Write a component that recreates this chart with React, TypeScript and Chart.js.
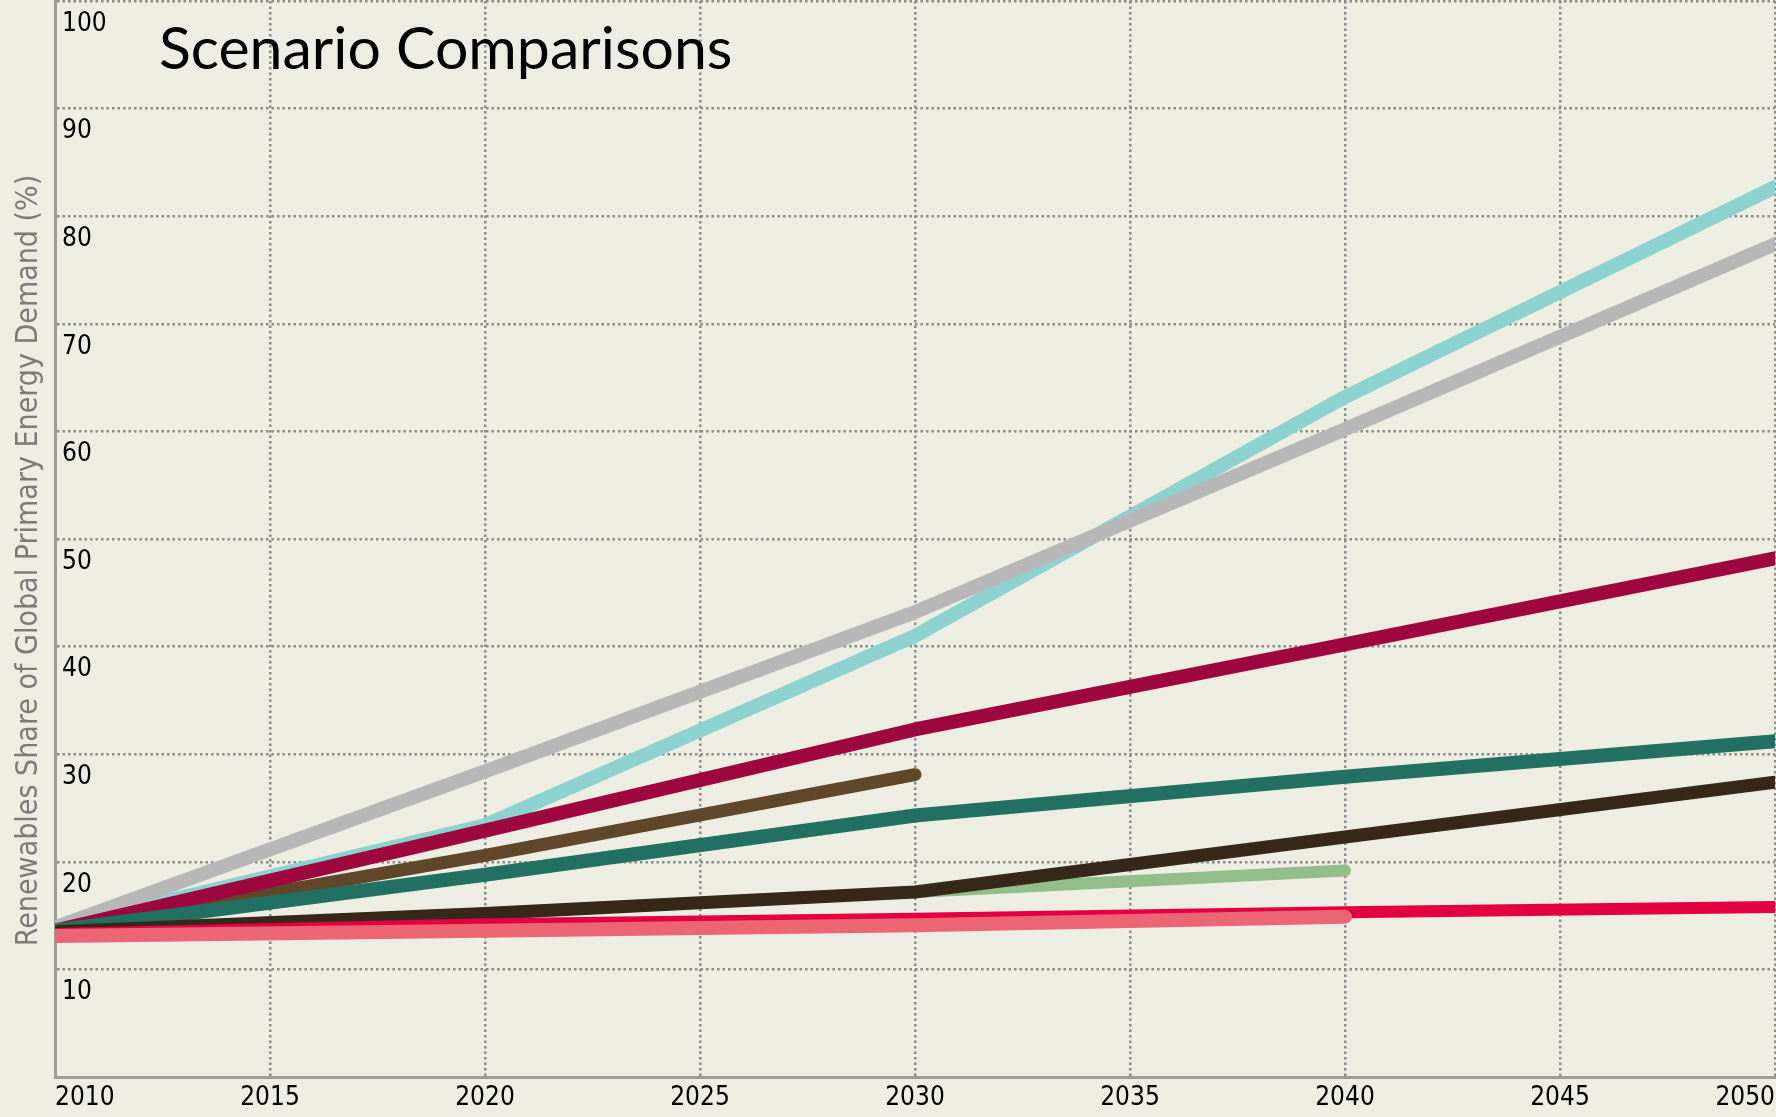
import React, { useEffect, useRef } from 'react';
import { Chart, registerables } from 'chart.js';

Chart.register(...registerables);

// ---- data ----
const years = [2010, 2020, 2030, 2040, 2050];

const cyanSeries = [13.9, 23.4, 41.0, 63.2, 82.7];
const graySeries = [13.9, 28.4, 43.2, 60.2, 77.4];
const maroonSeries = [13.6, 22.9, 32.3, 40.2, 48.2];
const brownSeries = [13.6, 20.6, 28.1, null, null];
const tealSeries = [13.6, 18.8, 24.3, 27.9, 31.2];
const darkSeries = [13.5, 15.2, 17.2, 22.3, 27.4];
const greenSeries = [13.5, 15.2, 17.2, 19.2, null];
const redSeries = [13.3, 14.2, 14.7, 15.3, 15.8];
const pinkSeries = [13.1, 13.6, 14.1, 14.9, null];

const xTickStep = 5;
const yTickStep = 10;
const chartTitle = 'Scenario Comparisons';
const yAxisTitle = 'Renewables Share of Global Primary Energy Demand (%)';

const condensed = "'Liberation Sans Narrow', 'DejaVu Sans Condensed', 'Liberation Sans', sans-serif";

type Series = { label: string; values: (number | null)[]; color: string; width: number; order: number };

const seriesList: Series[] = [
  { label: 'Scenario 1', values: cyanSeries, color: '#8CD2CE', width: 14, order: 8 },
  { label: 'Scenario 2', values: graySeries, color: '#B8B7B7', width: 14, order: 7 },
  { label: 'Scenario 3', values: brownSeries, color: '#60472A', width: 13, order: 6 },
  { label: 'Scenario 4', values: maroonSeries, color: '#9E063E', width: 14, order: 5 },
  { label: 'Scenario 5', values: tealSeries, color: '#217062', width: 14, order: 4 },
  { label: 'Scenario 6', values: greenSeries, color: '#92BE89', width: 12, order: 3 },
  { label: 'Scenario 7', values: darkSeries, color: '#362818', width: 13, order: 2 },
  { label: 'Scenario 8', values: redSeries, color: '#E3003E', width: 12, order: 1 },
  { label: 'Scenario 9', values: pinkSeries, color: '#EC6574', width: 14, order: 0 },
];

export default function App() {
  const ref = useRef<HTMLCanvasElement>(null);

  useEffect(() => {
    document.body.style.margin = '0';
    document.body.style.overflow = 'hidden';
    const canvas = ref.current;
    if (!canvas) return;

    const datasets = seriesList.map((s) => ({
      label: s.label,
      data: years
        .map((yr, i) => ({ x: yr, y: s.values[i] }))
        .filter((p) => p.y !== null) as { x: number; y: number }[],
      borderColor: s.color,
      backgroundColor: s.color,
      borderWidth: s.width,
      order: s.order,
      pointRadius: 0,
      pointHoverRadius: 0,
      borderCapStyle: 'round' as const,
      borderJoinStyle: 'round' as const,
      tension: 0,
      fill: false,
    }));

    const gridColor = '#8c8c8c';

    const chart = new Chart(canvas, {
      type: 'line',
      data: { datasets },
      options: {
        responsive: false,
        animation: false,
        events: [],
        layout: { padding: { top: 1, right: 1, left: 0, bottom: 0 } },
        plugins: {
          legend: { display: false },
          tooltip: { enabled: false },
          title: { display: false },
        },
        scales: {
          x: {
            type: 'linear',
            min: years[0],
            max: years[years.length - 1],
            afterFit: (s: any) => {
              s.height = 40;
              s.paddingLeft = 0;
              s.paddingRight = 0;
            },
            ticks: {
              stepSize: xTickStep,
              autoSkip: false,
              maxRotation: 0,
              align: 'inner',
              padding: 6,
              color: '#000000',
              font: { family: condensed, size: 26, lineHeight: 1.2 },
              callback: (v: any) => String(v),
            },
            grid: { color: gridColor, lineWidth: 2.5, drawTicks: false },
            border: { display: true, color: '#9c9c9c', width: 3, dash: [2.5, 3] },
          },
          y: {
            type: 'linear',
            min: 0,
            max: 100,
            afterFit: (s: any) => {
              s.width = 55;
              s.paddingTop = 0;
              s.paddingBottom = 0;
            },
            ticks: {
              stepSize: yTickStep,
              autoSkip: false,
              mirror: true,
              padding: 7,
              labelOffset: 23,
              color: '#000000',
              font: { family: condensed, size: 26, lineHeight: 1.2 },
              callback: (v: any) => (v === 0 ? '' : String(v)),
            },
            grid: { color: gridColor, lineWidth: 2.5, drawTicks: false },
            border: { display: true, color: '#9c9c9c', width: 3, dash: [2.5, 3] },
            title: {
              display: true,
              text: yAxisTitle + '     ',
              color: '#7b7b7b',
              font: { family: condensed, size: 30, lineHeight: 1 },
              padding: { top: 14, bottom: 0 },
            },
          },
        },
      },
    });
    return () => chart.destroy();
  }, []);

  return (
    <div style={{ position: 'relative', width: 1776, height: 1117, background: '#EDEDE3', overflow: 'hidden' }}>
      <canvas ref={ref} width={1776} height={1117} style={{ display: 'block' }} />
      <div
        style={{
          position: 'absolute',
          left: 159,
          top: 11,
          fontFamily: 'Lato, "Open Sans", sans-serif',
          fontSize: 59,
          lineHeight: '72px',
          color: '#000',
          whiteSpace: 'nowrap',
        }}
      >
        {chartTitle}
      </div>
    </div>
  );
}
